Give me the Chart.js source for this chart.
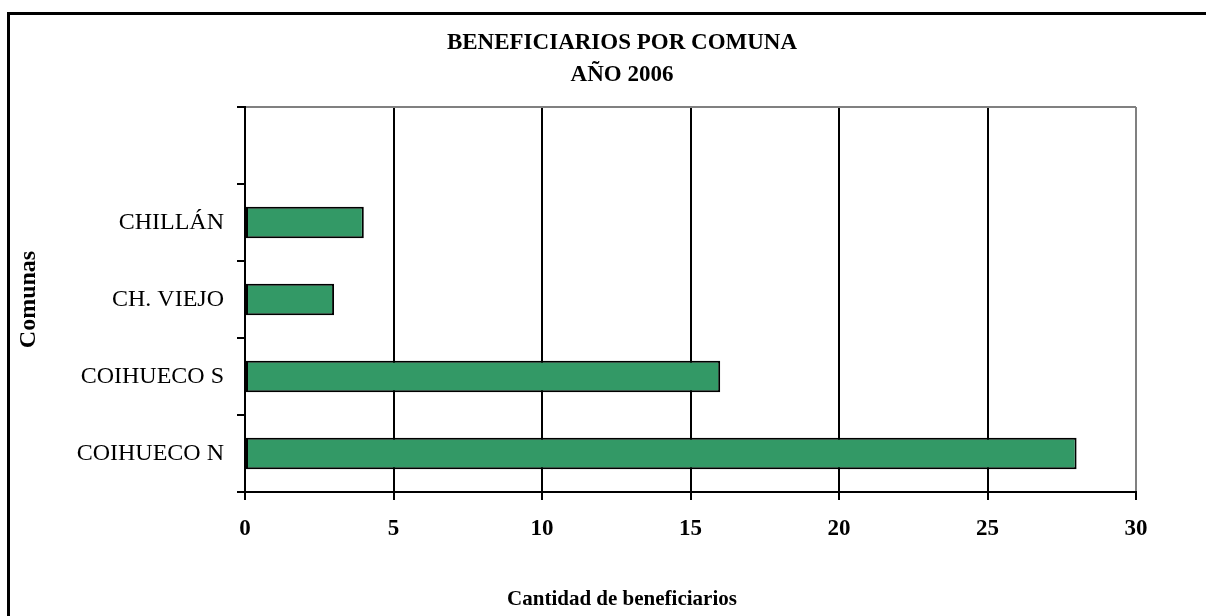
<!DOCTYPE html>
<html>
<head>
<meta charset="utf-8">
<script src="https://cdn.jsdelivr.net/npm/chart.js@4/dist/chart.umd.min.js"></script>
<style>
  html, body { margin: 0; padding: 0; background: #fff; overflow: hidden; width: 1206px; height: 616px; }
  #frame {
    position: absolute; left: 7px; top: 12px;
    width: 1400px; height: 800px;
    border: 3px solid #000;
  }
  #chart { position: absolute; left: 0; top: 0; }
</style>
</head>
<body>
<div id="frame"></div>
<canvas id="chart" width="1244" height="616"></canvas>
<script>
/* =========================
   Data
========================= */

const comunas = ["", "CHILLÁN", "CH. VIEJO", "COIHUECO S", "COIHUECO N"];
const beneficiarios = [null, 4, 3, 16, 28];
const xTicks = [0, 5, 10, 15, 20, 25, 30];

const titleLines = ["BENEFICIARIOS POR COMUNA", "AÑO 2006"];
const xTitle = "Cantidad de beneficiarios";
const yTitle = "Comunas";

/* =========================
   Chart
========================= */

const serif = "'Liberation Serif', 'Times New Roman', serif";

new Chart(document.getElementById("chart"), {
  type: "bar",
  data: {
    labels: comunas,
    datasets: [{
      data: beneficiarios,
      backgroundColor: "#339966",
      borderColor: "#000",
      borderWidth: 2,
      borderSkipped: false,
      barPercentage: 0.41,
      categoryPercentage: 1
    }]
  },
  options: {
    indexAxis: "y",
    responsive: false,
    animation: false,
    layout: { padding: 0 },
    plugins: {
      legend: { display: false },
      tooltip: { enabled: false },
      title: {
        display: true,
        text: titleLines,
        color: "#000",
        font: { family: serif, size: 23, weight: "bold", lineHeight: 1.4 },
        padding: { top: 27, bottom: 15.6 }
      },
      subtitle: {
        display: true,
        position: "bottom",
        text: xTitle,
        color: "#000",
        font: { family: serif, size: 21, weight: "bold", lineHeight: 1.2 },
        padding: { top: 35.4, bottom: 3.4 }
      }
    },
    scales: {
      x: {
        min: 0,
        max: 30,
        afterBuildTicks: scale => {
          scale.ticks = xTicks.map(v => ({ value: v }));
        },
        afterFit: scale => { scale.height = 60; },
        border: { color: "#000", width: 2 },
        grid: {
          color: ctx => (ctx.tick && ctx.tick.value === 30 ? "#808080" : "#000"),
          tickColor: "#000",
          lineWidth: 2,
          tickLength: 8
        },
        ticks: {
          color: "#000",
          padding: 15,
          font: { family: serif, size: 23, weight: "bold" }
        }
      },
      y: {
        afterFit: scale => { scale.width = 245; },
        border: { color: "#000", width: 2 },
        grid: {
          offset: true,
          color: ctx => (ctx.index === 0 ? "#808080" : "rgba(0,0,0,0)"),
          tickColor: "#000",
          lineWidth: 2,
          tickLength: 8
        },
        ticks: {
          color: "#000",
          padding: 13,
          font: { family: serif, size: 24 }
        },
        title: {
          display: true,
          text: yTitle,
          color: "#000",
          font: { family: serif, size: 24, weight: "bold", lineHeight: 1.2 },
          padding: { top: 14.6, bottom: 0 }
        }
      },
      // empty space on the right, like the Excel chart area
      right: {
        type: "linear",
        position: "right",
        display: true,
        afterFit: scale => { scale.width = 108; },
        border: { display: false },
        grid: { display: false },
        ticks: { display: false }
      }
    }
  }
});
</script>
</body>
</html>
